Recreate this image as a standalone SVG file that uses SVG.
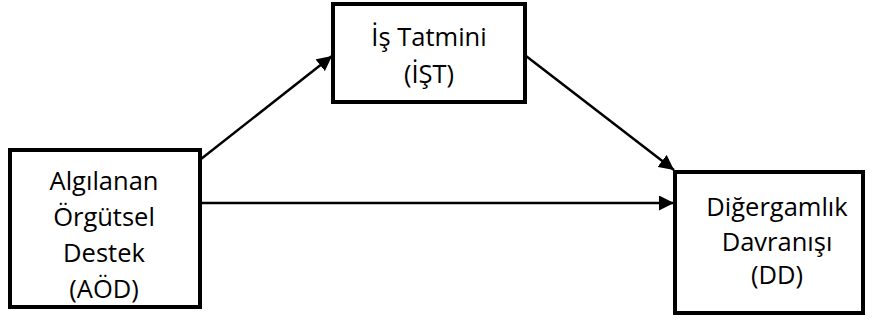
<svg xmlns="http://www.w3.org/2000/svg" width="872" height="324" viewBox="0 0 872 324">
<defs>
<style>
.box{fill:#fff;stroke:#000;stroke-width:4}
.t{font-family:"Open Sans","Noto Sans","Liberation Sans",sans-serif;font-size:25.5px;fill:#000;text-anchor:middle}
.c{stroke:#000;stroke-width:2.5;fill:none}
</style>
<marker id="ah" viewBox="0 0 10 10" refX="10" refY="5" markerWidth="6" markerHeight="6" markerUnits="strokeWidth" orient="auto">
<path d="M0,0 L10,5 L0,10 z" fill="#000"/>
</marker>
</defs>
<g id="connectors">
<line class="c" x1="201" y1="159" x2="332" y2="56" marker-end="url(#ah)"/>
<line class="c" x1="526" y1="56" x2="674" y2="170" marker-end="url(#ah)"/>
<line class="c" x1="201" y1="203" x2="674" y2="203" marker-end="url(#ah)"/>
</g>
<g id="aod">
<rect class="box" x="10" y="150" width="190" height="157"/>
<text class="t" x="104" y="190">Algılanan</text>
<text class="t" x="104" y="226">Örgütsel</text>
<text class="t" x="104" y="262">Destek</text>
<text class="t" x="104" y="298">(AÖD)</text>
</g>
<g id="ist">
<rect class="box" x="333" y="4" width="192" height="98"/>
<text class="t" x="429" y="46">İş Tatmini</text>
<text class="t" x="429" y="83">(İŞT)</text>
</g>
<g id="dd">
<rect class="box" x="675" y="172" width="188" height="141"/>
<text class="t" x="777" y="216">Diğergamlık</text>
<text class="t" x="777" y="251">Davranışı</text>
<text class="t" x="777" y="284">(DD)</text>
</g>
</svg>
